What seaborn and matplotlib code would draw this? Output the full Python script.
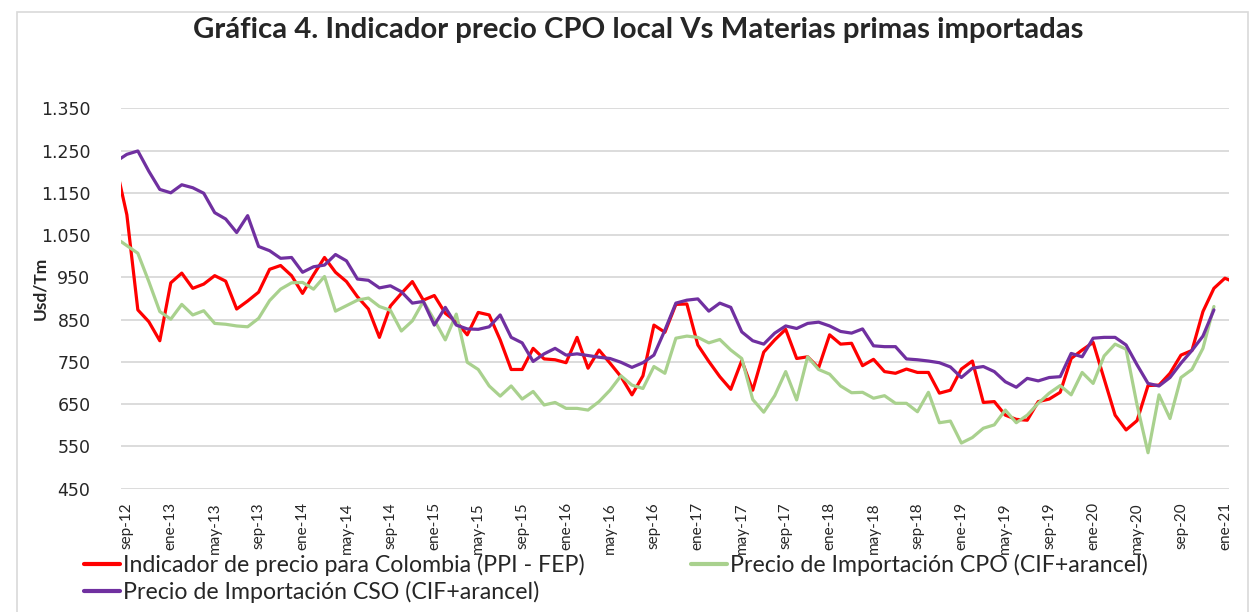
import pandas as pd
import matplotlib
matplotlib.use("Agg")
import matplotlib.pyplot as plt
import seaborn as sns
from matplotlib.patches import Rectangle
from matplotlib.lines import Line2D
from matplotlib.ticker import FuncFormatter

# monthly series, ago-12 ... (first/last month only partly visible, as in the source)
START = "2012-08-01"

ppi_fep = [1215, 1098, 873, 845, 800, 937, 960, 924, 934, 954, 941, 875, 894, 915,
           969, 978, 954, 912, 956, 997, 962, 940, 904, 875, 808, 882, 912, 940,
           896, 907, 865, 845, 814, 867, 861, 802, 732, 732, 782, 757, 755, 748,
           808, 735, 778, 747, 715, 672, 717, 837, 820, 886, 887, 790, 751, 715,
           685, 753, 683, 773, 802, 827, 758, 762, 736, 814, 792, 794, 741, 756,
           727, 723, 733, 725, 725, 676, 683, 733, 752, 654, 656, 624, 614, 612,
           656, 662, 678, 758, 778, 796, 710, 624, 589, 611, 694, 695, 723, 766,
           777, 869, 924, 948, 937]

cpo_imp = [1043, 1025, 1007, 940, 869, 851, 886, 861, 871, 841, 839, 835, 833, 853,
           895, 922, 937, 938, 922, 952, 870, 883, 896, 901, 881, 872, 823, 847,
           893, 849, 802, 863, 749, 732, 693, 669, 693, 662, 680, 648, 654, 640,
           640, 636, 656, 683, 717, 695, 687, 739, 723, 806, 811, 808, 795, 803,
           778, 758, 661, 631, 670, 727, 660, 762, 732, 721, 693, 677, 678, 664,
           670, 652, 652, 632, 678, 606, 610, 558, 571, 593, 601, 636, 606, 624,
           652, 676, 694, 672, 725, 699, 764, 792, 780, 648, 535, 672, 616, 713,
           732, 782, 881]

cso_imp = [1224, 1241, 1249, 1201, 1158, 1150, 1169, 1162, 1149, 1103, 1088, 1056,
           1096, 1023, 1013, 995, 997, 962, 975, 979, 1004, 989, 946, 943, 925,
           930, 916, 889, 893, 837, 879, 837, 828, 827, 833, 861, 808, 795, 751,
           769, 782, 766, 769, 765, 761, 758, 749, 737, 748, 766, 825, 889, 896,
           899, 870, 889, 879, 821, 800, 792, 818, 835, 829, 841, 844, 835, 822,
           818, 828, 788, 786, 786, 757, 755, 752, 748, 738, 713, 735, 739, 727,
           703, 690, 711, 705, 713, 715, 770, 762, 806, 808, 808, 790, 743, 699,
           693, 713, 747, 777, 811, 873]

series_names = ["Indicador de precio para Colombia (PPI - FEP)",
                "Precio de Importación CPO (CIF+arancel)",
                "Precio de Importación CSO (CIF+arancel)"]
colors = ["#FF0000", "#A9D18E", "#7030A0"]

tick_labels = ["sep-12", "ene-13", "may-13", "sep-13", "ene-14", "may-14", "sep-14",
               "ene-15", "may-15", "sep-15", "ene-16", "may-16", "sep-16", "ene-17",
               "may-17", "sep-17", "ene-18", "may-18", "sep-18", "ene-19", "may-19",
               "sep-19", "ene-20", "may-20", "sep-20", "ene-21"]

# ── long-form table ───────────────────────────────────────────────────────────
months = pd.date_range(START, periods=len(ppi_fep), freq="MS")
frames = []
for name, vals in zip(series_names, [ppi_fep, cpo_imp, cso_imp]):
    frames.append(pd.DataFrame({"mes": months[:len(vals)], "valor": vals, "serie": name}))
df = pd.concat(frames, ignore_index=True)
df["pos"] = (df["mes"].dt.year - 2012) * 12 + df["mes"].dt.month - 8  # ago-12 = 0

tick_pos = [months.get_loc(pd.to_datetime("01-" + l.replace("ene", "jan"), format="%d-%b-%y"))
            for l in tick_labels]

# ── plot ──────────────────────────────────────────────────────────────────────
sns.set_style("white")
plt.rcParams["font.family"] = ["DejaVu Sans"]

fig = plt.figure(figsize=(12.53, 6.12), dpi=100)
ax = fig.add_axes([0.0966, 0.2015, 0.8843, 0.6216])

sns.lineplot(data=df, x="pos", y="valor", hue="serie", hue_order=series_names,
             palette=colors, linewidth=2.3, errorbar=None, legend=False, ax=ax)

ax.set_xlim(0.47, 101.38)
ax.set_ylim(450, 1350)
ax.set_yticks(range(450, 1351, 100))
ax.yaxis.set_major_formatter(FuncFormatter(lambda v, _: f"{v:,.0f}".replace(",", ".")))
ax.set_xticks(tick_pos)
ax.set_xticklabels(tick_labels, rotation=90, family="Lato", fontsize=11)
ax.tick_params(axis="y", length=0, pad=22, labelsize=12.5)
ax.tick_params(axis="x", length=0, pad=9.5)
ax.set_xlabel("")
ax.set_ylabel("")
ax.set_axisbelow(True)
ax.yaxis.grid(True, color="#D9D9D9", linewidth=1.3)
ax.xaxis.grid(False)
for s in ax.spines.values():
    s.set_visible(False)

fig.text(0.509, 0.951, "Gráfica 4. Indicador precio CPO local Vs Materias primas importadas",
         ha="center", va="center", fontsize=21.2, fontweight="bold", family="Lato")
fig.text(40 / 1253, 0.529, "Usd/Tm", rotation=90, ha="center", va="center",
         fontsize=12.5, fontweight="bold", family="Lato")

handles = [Line2D([], [], color=c, linewidth=3) for c in colors]
order = [0, 2, 1]
fig.legend([handles[i] for i in order], [series_names[i] for i in order],
           ncol=2, loc="upper left", bbox_to_anchor=(84 / 1253, 1 - 554 / 612),
           frameon=False, prop={"family": "Lato", "size": 16.7},
           borderpad=0, borderaxespad=0,
           handlelength=1.55, handletextpad=0.13, columnspacing=4.6, labelspacing=0.2)

fig.patches.append(Rectangle((17 / 1253, -0.1), (1248 - 17) / 1253, 1.1 - 12 / 612,
                             transform=fig.transFigure, fill=False,
                             edgecolor="#D9D9D9", linewidth=1.2))

fig.savefig("out.png", dpi=100)
